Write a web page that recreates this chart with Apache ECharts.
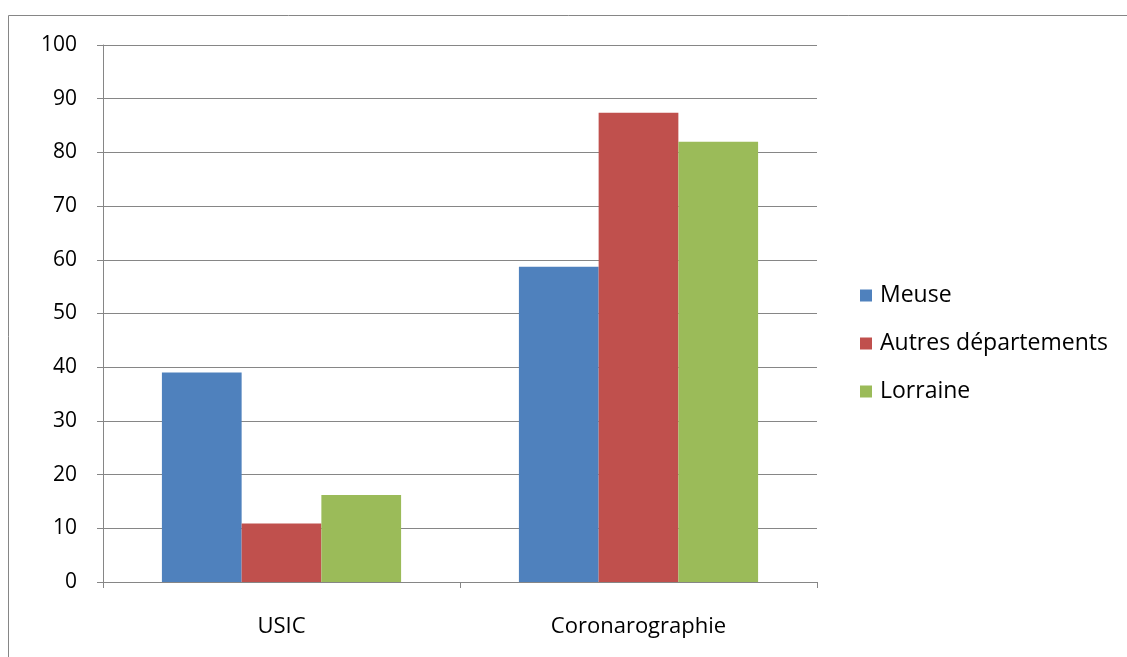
<!DOCTYPE html>
<html><head><meta charset="utf-8">
<script src="https://cdn.jsdelivr.net/npm/echarts@6/dist/echarts.min.js"></script>
<style>html,body{margin:0;padding:0;background:#fff}#c{width:1127px;height:657px}</style>
</head><body><div id="c"></div>
<script>
const categories = ['USIC', 'Coronarographie'];
const seriesNames = ['Meuse', 'Autres départements', 'Lorraine'];
const meuse = [39.0, 58.7];
const autres = [10.9, 87.4];
const lorraine = [16.2, 82.0];
const colors = ['#4F81BD', '#C0504D', '#9BBB59'];
const font = '"Open Sans", "Noto Sans", sans-serif';
const chart = echarts.init(document.getElementById('c'));
const vals = [meuse, autres, lorraine];
chart.setOption({
  animation: false,
  graphic: [{type: 'rect', shape: {x: 8.5, y: 15.5, width: 1130, height: 660}, style: {fill: 'none', stroke: '#868686', lineWidth: 1}}],
  grid: {left: 103, top: 45, right: 310, bottom: 75},
  legend: {
    orient: 'vertical', left: 860, top: 284, padding: 0, itemWidth: 12, itemHeight: 12, itemGap: 25,
    icon: 'rect', textStyle: {fontFamily: font, fontSize: 23, color: '#000', padding: [0,0,0,3]},
    data: seriesNames
  },
  xAxis: {
    type: 'category', data: categories,
    axisLine: {lineStyle: {color: '#868686'}},
    axisTick: {show: true, length: 6, lineStyle: {color: '#868686'}},
    axisLabel: {fontFamily: font, fontSize: 22, color: '#000', margin: 34}
  },
  yAxis: {
    type: 'value', min: 0, max: 100, interval: 10,
    axisLine: {show: true, lineStyle: {color: '#868686'}},
    axisTick: {show: true, length: 6, lineStyle: {color: '#868686'}},
    splitLine: {lineStyle: {color: '#868686'}},
    axisLabel: {fontFamily: font, fontSize: 21, color: '#000', margin: 26}
  },
  series: seriesNames.map((n, i) => ({
    name: n, type: 'bar', data: vals[i], barGap: '0%', barCategoryGap: '33%',
    itemStyle: {color: colors[i]}
  }))
});
</script></body></html>
